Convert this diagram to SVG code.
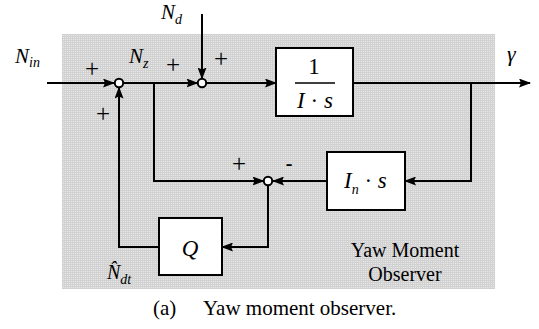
<svg xmlns="http://www.w3.org/2000/svg" width="539" height="329" viewBox="0 0 539 329">
<style>
.ln{fill:none;stroke:#000;stroke-width:2}
.blk{fill:#fff;stroke:#000;stroke-width:2}
.sum{fill:#fff;stroke:#000;stroke-width:2}
.m{font-family:"Liberation Serif","Times New Roman",serif;font-style:italic;fill:#000}
.t{font-family:"Liberation Serif","Times New Roman",serif;fill:#000}
.pl{font-family:"Liberation Serif","Times New Roman",serif;font-size:25px;fill:#000;text-anchor:middle}
</style>
<defs>
<pattern id="grid" width="2" height="2" patternUnits="userSpaceOnUse">
<rect width="2" height="2" fill="#e8e8e8"/>
<rect width="2" height="1" fill="#cfcfcf"/>
<rect width="1" height="2" fill="#d2d2d2"/>
</pattern>
<marker id="ar" markerWidth="12" markerHeight="9" refX="11" refY="4.5" orient="auto" markerUnits="userSpaceOnUse">
<path d="M0,0 L12,4.5 L0,9 L2,4.5 z" fill="#000"/>
</marker>
</defs>
<rect id="background" x="62" y="34" width="433" height="255" fill="url(#grid)"/>
<g id="connectors">
<path class="ln" d="M47,83 H114" marker-end="url(#ar)"/>
<path class="ln" d="M124,83 H197.5" marker-end="url(#ar)"/>
<path class="ln" d="M202,14 V78.5" marker-end="url(#ar)"/>
<path class="ln" d="M207,83 H276" marker-end="url(#ar)"/>
<path class="ln" d="M353,83 H530" marker-end="url(#ar)"/>
<path class="ln" d="M471,83 V181 H405" marker-end="url(#ar)"/>
<path class="ln" d="M327,181 H273" marker-end="url(#ar)"/>
<path class="ln" d="M154,83 V181 H263.5" marker-end="url(#ar)"/>
<path class="ln" d="M268,185.5 V247 H222" marker-end="url(#ar)"/>
<path class="ln" d="M159,247 H119 V87.5" marker-end="url(#ar)"/>
</g>
<g id="sum1"><circle class="sum" cx="119" cy="83" r="4.2"/></g>
<g id="sum2"><circle class="sum" cx="202" cy="83" r="4.2"/></g>
<g id="sum3"><circle class="sum" cx="268" cy="181" r="4.2"/></g>
<g id="plant">
<rect class="blk" x="276" y="48" width="77" height="68"/>
<text class="t" x="314" y="74" font-size="23" text-anchor="middle">1</text>
<line x1="295" y1="83" x2="335" y2="83" stroke="#000" stroke-width="1.5"/>
<text class="m" x="315" y="108" font-size="23" text-anchor="middle">I<tspan font-style="normal"> · </tspan>s</text>
</g>
<g id="nominal">
<rect class="blk" x="327" y="152" width="78" height="58"/>
<text class="m" x="344" y="188" font-size="23">I<tspan font-size="14" dy="6">n</tspan><tspan dy="-6" font-style="normal"> · </tspan>s</text>
</g>
<g id="filterQ">
<rect class="blk" x="159" y="218" width="63" height="57"/>
<text class="m" x="190" y="256" font-size="23" text-anchor="middle">Q</text>
</g>
<g id="labels">
<text class="m" x="15" y="63" font-size="21">N<tspan font-size="14" dy="4">in</tspan></text>
<text class="m" x="161" y="19" font-size="21">N<tspan font-size="14" dy="5">d</tspan></text>
<text class="m" x="129" y="63" font-size="21">N<tspan font-size="14" dy="5">z</tspan></text>
<text class="m" x="507" y="61" font-size="22">γ</text>
<text class="m" x="107" y="279" font-size="20">N̂<tspan font-size="14" dy="5">dt</tspan></text>
<text class="pl" x="92" y="77">+</text>
<text class="pl" x="173" y="73">+</text>
<text class="pl" x="221" y="67">+</text>
<text class="pl" x="103" y="122">+</text>
<text class="pl" x="239" y="172">+</text>
<text class="t" x="289" y="170" font-size="20" font-weight="bold" text-anchor="middle">-</text>
<text class="t" x="405" y="257" font-size="20" text-anchor="middle">Yaw Moment</text>
<text class="t" x="405" y="281" font-size="20" text-anchor="middle">Observer</text>
<text class="t" x="153" y="315" font-size="21">(a)</text>
<text class="t" x="203" y="315" font-size="21">Yaw moment observer.</text>
</g>
</svg>
